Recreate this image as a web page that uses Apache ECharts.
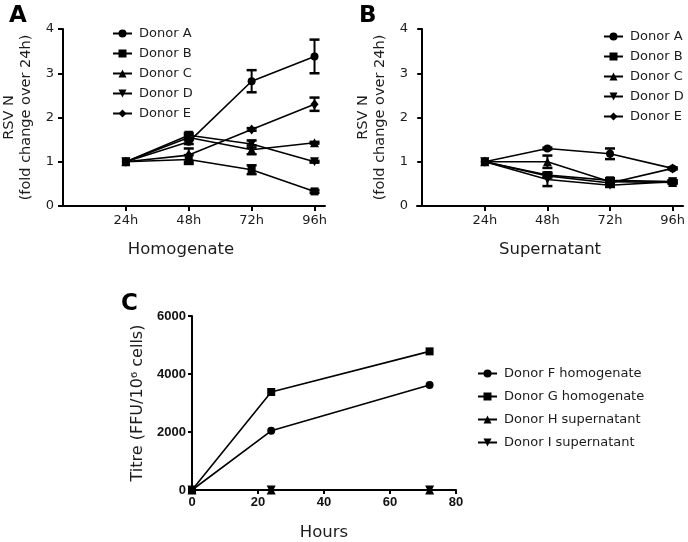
<!DOCTYPE html>
<html>
<head>
<meta charset="utf-8">
<script src="https://cdn.jsdelivr.net/npm/echarts@6/dist/echarts.min.js"></script>
<style>html,body{margin:0;padding:0;background:#fff}#c{width:688px;height:542px}</style>
</head>
<body>
<div id="c"></div>
<script>
// ---- data ----
const hoursAB = [24, 48, 72, 96];
const donorNames = ['Donor A', 'Donor B', 'Donor C', 'Donor D', 'Donor E'];

// Panel A: homogenate (fold change over 24h)
const homA = [1, 1.45, 2.82, 3.38];
const homB = [1, 1.05, 0.82, 0.33];
const homC = [1, 1.55, 1.27, 1.43];
const homD = [1, 1.60, 1.40, 1.00];
const homE = [1, 1.15, 1.73, 2.30];
const homErrA = [0, 0.05, 0.25, 0.38];
const homErrB = [0, 0.10, 0.10, 0.03];
const homErrC = [0, 0.06, 0.10, 0.02];
const homErrD = [0, 0.05, 0.08, 0.02];
const homErrE = [0, 0.15, 0.03, 0.15];

// Panel B: supernatant
const supA = [1, 1.30, 1.18, 0.85];
const supB = [1, 0.70, 0.58, 0.55];
const supC = [1, 1.00, 0.55, 0.53];
const supD = [1, 0.60, 0.47, 0.55];
const supE = [1, 0.68, 0.52, 0.85];
const supErrA = [0, 0.02, 0.12, 0.02];
const supErrB = [0, 0.05, 0.05, 0.03];
const supErrC = [0, 0.14, 0.04, 0.03];
const supErrD = [0, 0.15, 0.04, 0.03];
const supErrE = [0, 0.03, 0.03, 0.02];

// Panel C: titre
const hoursC = [0, 24, 72];
const titreNames = ['Donor F homogenate', 'Donor G homogenate', 'Donor H supernatant', 'Donor I supernatant'];
const titreF = [0, 2040, 3620];
const titreG = [0, 3380, 4780];
const titreH = [0, 0, 0];
const titreI = [0, 0, 0];

// ---- styling helpers ----
const TXT = '#1c1c1c';
const FONT = 'DejaVu Sans';
const symbols = [
  {symbol: 'circle', size: 8, rotate: 0},
  {symbol: 'rect', size: 8, rotate: 0},
  {symbol: 'triangle', size: 9, rotate: 0},
  {symbol: 'triangle', size: 9, rotate: 180},
  {symbol: 'diamond', size: [8, 10], rotate: 0}
];

function lineSeries(name, xs, ys, sym, idx) {
  return {
    type: 'line', name: name, xAxisIndex: idx, yAxisIndex: idx,
    data: xs.map((x, i) => [x, ys[i]]),
    symbol: sym.symbol, symbolSize: sym.size, symbolRotate: sym.rotate,
    showSymbol: true,
    lineStyle: {color: '#000', width: 1.6},
    itemStyle: {color: '#000', borderWidth: 0},
    z: 3, animation: false
  };
}
let errCount = 0;
function errSeries(xs, ys, es, idx) {
  errCount += 1;
  return {
    type: 'custom', name: 'errbar' + errCount, xAxisIndex: idx, yAxisIndex: idx,
    data: xs.map((x, i) => [x, ys[i], es[i]]),
    encode: {x: 0, y: 1},
    z: 4, animation: false, silent: true,
    renderItem: function (params, api) {
      const x = api.value(0), y = api.value(1), e = api.value(2);
      if (!e) return null;
      const t = api.coord([x, y + e]);
      const b = api.coord([x, y - e]);
      const w = 5;
      const st = {stroke: '#000', lineWidth: 2};
      return {type: 'group', children: [
        {type: 'line', shape: {x1: t[0], y1: t[1], x2: b[0], y2: b[1]}, style: st},
        {type: 'line', shape: {x1: t[0] - w, y1: t[1], x2: t[0] + w, y2: t[1]}, style: {stroke: '#000', lineWidth: 2.5}},
        {type: 'line', shape: {x1: b[0] - w, y1: b[1], x2: b[0] + w, y2: b[1]}, style: {stroke: '#000', lineWidth: 2.5}}
      ]};
    }
  };
}

const axisLineStyle = {show: true, lineStyle: {color: '#000', width: 2}};
const tickStyle = {show: true, inside: false, length: 5, lineStyle: {color: '#000', width: 2}};

function abXAxis(idx, min, max, name, namePad) {
  return {
    type: 'value', gridIndex: idx, min: min, max: max,
    axisLine: axisLineStyle,
    axisTick: Object.assign({}, tickStyle, {customValues: hoursAB}),
    axisLabel: {customValues: hoursAB, formatter: '{value}h', color: TXT, fontFamily: FONT, fontSize: 13, margin: 8},
    splitLine: {show: false},
    name: name, nameLocation: 'middle', nameGap: 35,
    nameTextStyle: {color: TXT, fontFamily: FONT, fontSize: 16.5, padding: namePad}
  };
}
function abYAxis(idx) {
  return {
    type: 'value', gridIndex: idx, min: 0, max: 4, interval: 1,
    axisLine: axisLineStyle, axisTick: tickStyle,
    axisLabel: {color: TXT, fontFamily: FONT, fontSize: 13, margin: 9},
    splitLine: {show: false},
    name: 'RSV N\n(fold change over 24h)', nameLocation: 'middle', nameGap: 28,
    nameTextStyle: {color: TXT, fontFamily: FONT, fontSize: 14.5, lineHeight: 17, align: 'center'}
  };
}

const series = [];
const homVals = [homA, homB, homC, homD, homE];
const homErrs = [homErrA, homErrB, homErrC, homErrD, homErrE];
const supVals = [supA, supB, supC, supD, supE];
const supErrs = [supErrA, supErrB, supErrC, supErrD, supErrE];
donorNames.forEach((n, i) => {
  series.push(errSeries(hoursAB, homVals[i], homErrs[i], 0));
  series.push(lineSeries(n, hoursAB, homVals[i], symbols[i], 0));
});
donorNames.forEach((n, i) => {
  series.push(errSeries(hoursAB, supVals[i], supErrs[i], 1));
  series.push(lineSeries(n, hoursAB, supVals[i], symbols[i], 1));
});
const titreVals = [titreF, titreG, titreH, titreI];
titreNames.forEach((n, i) => {
  series.push(lineSeries(n, hoursC, titreVals[i], symbols[i], 2));
});

const legendText = {color: TXT, fontFamily: FONT, fontSize: 13, padding: [0, 0, 0, 2]};

const option = {
  animation: false,
  backgroundColor: '#fff',
  title: [
    {text: 'A', left: 4, top: 0, textStyle: {fontFamily: FONT, fontWeight: 'bold', fontSize: 23, color: '#000'}},
    {text: 'B', left: 354, top: 0, textStyle: {fontFamily: FONT, fontWeight: 'bold', fontSize: 23, color: '#000'}},
    {text: 'C', left: 116, top: 288, textStyle: {fontFamily: FONT, fontWeight: 'bold', fontSize: 23, color: '#000'}}
  ],
  grid: [
    {left: 63, top: 29, width: 262, height: 177},
    {left: 417, top: 29, width: 268, height: 177},
    {left: 192, top: 316, width: 264, height: 176}
  ],
  xAxis: [
    abXAxis(0, 0, 100, 'Homogenate', [0, 26, 0, 0]),
    abXAxis(1, -2, 100, 'Supernatant', [0, 0, 0, 0]),
    {
      type: 'value', gridIndex: 2, min: 0, max: 80, interval: 20,
      axisLine: axisLineStyle, axisTick: Object.assign({}, tickStyle, {length: 4}),
      axisLabel: {formatter: v => String(v), color: '#111', fontFamily: 'Liberation Sans', fontWeight: 'bold', fontSize: 13, margin: 6},
      splitLine: {show: false},
      name: 'Hours', nameLocation: 'middle', nameGap: 34,
      nameTextStyle: {color: TXT, fontFamily: FONT, fontSize: 16.5}
    }
  ],
  yAxis: [
    abYAxis(0), abYAxis(1),
    {
      type: 'value', gridIndex: 2, min: 0, max: 6000, interval: 2000,
      axisLine: axisLineStyle, axisTick: Object.assign({}, tickStyle, {length: 4}),
      axisLabel: {formatter: v => String(v), color: '#111', fontFamily: 'Liberation Sans', fontWeight: 'bold', fontSize: 13, margin: 6},
      splitLine: {show: false},
      name: 'Titre (FFU/10\u2076 cells)', nameLocation: 'middle', nameGap: 46,
      nameTextStyle: {color: TXT, fontFamily: FONT, fontSize: 16}
    }
  ],
  legend: [
    {data: donorNames, orient: 'vertical', left: 107, top: 22, itemWidth: 19, itemHeight: 10, itemGap: 7,
     textStyle: legendText, selectedMode: false},
    {data: donorNames, orient: 'vertical', left: 598, top: 25, itemWidth: 19, itemHeight: 10, itemGap: 7,
     textStyle: legendText, selectedMode: false},
    {data: titreNames, orient: 'vertical', left: 472, top: 362, itemWidth: 19, itemHeight: 10, itemGap: 10,
     textStyle: legendText, selectedMode: false}
  ],
  series: series
};

const chart = echarts.init(document.getElementById('c'), null, {renderer: 'canvas'});
chart.setOption(option);
</script>
</body>
</html>
